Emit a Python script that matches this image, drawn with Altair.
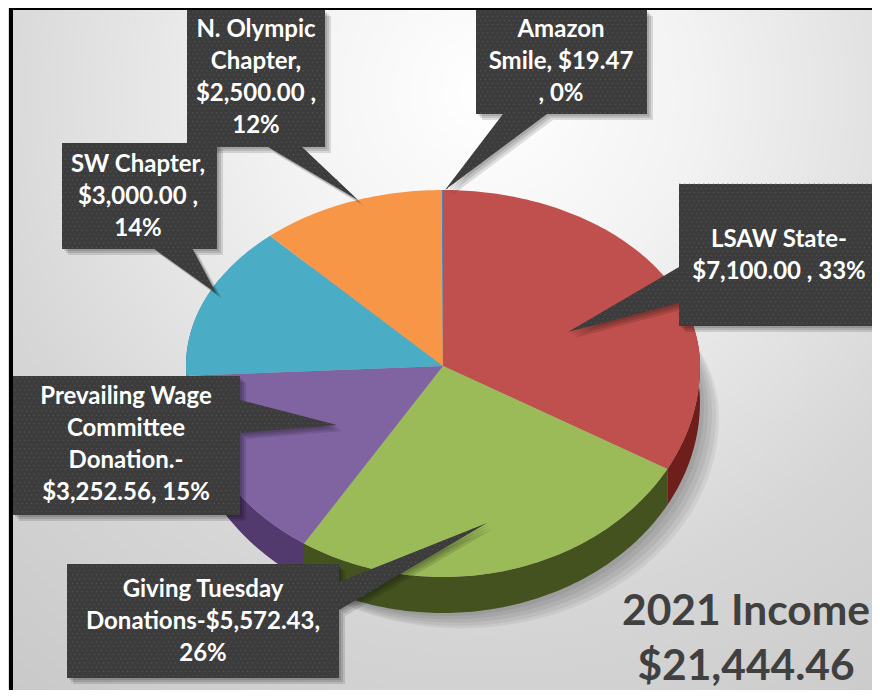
import math
import altair as alt
import pandas as pd

alt.data_transformers.disable_max_rows()

categories = ["LSAW State", "Giving Tuesday Donations", "Prevailing Wage Committee Donation",
              "SW Chapter", "N. Olympic Chapter", "Amazon Smile"]
values = [7100.00, 5572.43, 3252.56, 3000.00, 2500.00, 19.47]
top_colors = ["#c0504d", "#9bbb59", "#8064a2", "#4bacc6", "#f79646", "#4f81bd"]
side_colors = ["#6e1f1c", "#44521f", "#523a6e", "#2a6a7c", "#9a5a22", "#2a4a70"]
labels = [
    "LSAW State-\n$7,100.00 , 33%",
    "Giving Tuesday\nDonations-$5,572.43,\n26%",
    "Prevailing Wage\nCommittee\nDonation.-\n$3,252.56, 15%",
    "SW Chapter,\n$3,000.00 ,\n14%",
    "N. Olympic\nChapter,\n$2,500.00 ,\n12%",
    "Amazon\nSmile,  $19.47\n, 0%",
]
# callout geometry, in page pixels: box (x0, y0, x1, y1), tail (base a, tip, base b)
boxes = [(679, 184, 872, 326), (67, 564, 339, 678), (13, 376, 240, 515),
         (62, 143, 217, 249), (187, 10, 325, 147), (476, 10, 647, 114)]
tails = [((679, 267), (568, 332), (679, 303)), ((339, 582), (487, 523), (339, 610)),
         ((240, 400), (337, 425), (240, 433)), ((153, 248), (216, 293), (192, 248)),
         ((268, 147), (358, 200), (302, 147)), ((503, 114), (445, 190), (547, 114))]
text_xy = [(779, 240), (203, 590), (126, 397), (138, 165), (256, 30), (561, 30)]
title_lines = ["2021 Income", "$21,444.46"]

CX, CY, RX, RY_UP, RY_DOWN, DEPTH = 443, 366, 257, 176, 211, 36
W0, W1, H0, H1 = 8, 872, 8, 690
x_scale = alt.Scale(domain=[W0, W1], range=[0, W1 - W0], nice=False, zero=False)
y_scale = alt.Scale(domain=[H1, H0], range=[H1 - H0, 0], nice=False, zero=False)
X = lambda f="x": alt.X(f + ":Q", scale=x_scale, axis=None)
Y = lambda f="y": alt.Y(f + ":Q", scale=y_scale, axis=None)


def rim(deg, dy=0, dx=0):
    a = math.radians(deg)
    c = math.cos(a)
    return CX + dx + RX * math.sin(a), CY + dy - (RY_UP if c > 0 else RY_DOWN) * c


def arc_pts(a0, a1, dy=0, dx=0):
    n = max(2, int(abs(a1 - a0)) + 1)
    return [rim(a0 + (a1 - a0) * i / (n - 1), dy, dx) for i in range(n)]


def rows(polys):
    out = []
    for pid, (pts, fill) in enumerate(polys):
        for i, (x, y) in enumerate(list(pts) + [pts[0]]):
            out.append({"pid": pid, "i": i, "x": x, "y": y, "fill": fill})
    return pd.DataFrame(out)


def poly_layer(polys, **mark):
    return alt.Chart(rows(polys)).mark_line(strokeWidth=0, **mark).encode(
        x=X(), y=Y(), order="i:Q", detail="pid:N", fill=alt.Fill("fill:N", scale=None))


# --- slices from the values
total = sum(values)
angles = [0]
for v in values:
    angles.append(angles[-1] + 360 * v / total)
tops, sides = [], []
for k in range(len(values)):
    a0, a1 = angles[k], angles[k + 1]
    tops.append(([(CX, CY)] + arc_pts(a0, a1), top_colors[k]))
    lo, hi = max(a0, 60), min(a1, 300)
    if hi > lo:
        sides.append((arc_pts(lo, hi, DEPTH) + arc_pts(hi, lo), side_colors[k]))

shadow_polys = [(arc_pts(0, 360, DEPTH + 0.8 * o, o), "#000000") for o in (4, 8, 12, 16, 19)]

# --- callouts
box_poly = lambda b: [(b[0], b[1]), (b[2], b[1]), (b[2], b[3]), (b[0], b[3])]
callouts = [(box_poly(b), "#3c3c3c") for b in boxes] + [(list(t), "#3c3c3c") for t in tails]
shad = []
for off in (2, 4, 6):
    shad += [([(x + off, y + off) for x, y in pts], "#000000") for pts, _ in callouts]


def inside(px, py, tri):
    s = []
    for j in range(3):
        (ax, ay), (bx, by) = tri[j], tri[(j + 1) % 3]
        s.append((bx - ax) * (py - ay) - (by - ay) * (px - ax))
    return all(v >= 0 for v in s) or all(v <= 0 for v in s)


dots = []
row = 0
yy = 12.0
while yy < 680:
    xx = 15.0 + (2.4 if row % 2 else 0)
    while xx < 872:
        if any(b[0] < xx < b[2] and b[1] < yy < b[3] for b in boxes) or any(inside(xx, yy, t) for t in tails):
            dots.append({"x": xx, "y": yy})
        xx += 4.8
    yy += 4.2
    row += 1

bg = pd.DataFrame([{"x": 13, "x2": 872, "y": 10, "y2": 690}])
frame = pd.DataFrame([{"x": 9, "x2": 13, "y": 8, "y2": 690}, {"x": 9, "x2": 872, "y": 8, "y2": 10}])
gradient = alt.RadialGradient(gradient="radial", x1=0.55, y1=0.2, r1=0, x2=0.55, y2=0.2, r2=1.0,
                              stops=[alt.GradientStop(color="#ffffff", offset=0),
                                     alt.GradientStop(color="#f2f2f2", offset=0.25),
                                     alt.GradientStop(color="#d6d6d6", offset=0.6),
                                     alt.GradientStop(color="#c4c4c4", offset=1)])
FONT = "Lato"
txt = pd.DataFrame([{"x": p[0], "y": p[1], "t": l.split("\n")} for p, l in zip(text_xy, labels)])
ttl = pd.DataFrame([{"x": 746, "y": 625, "t": title_lines[0]}, {"x": 746, "y": 680, "t": title_lines[1]}])

chart = alt.layer(
    alt.Chart(bg).mark_rect(fill=gradient).encode(x=X(), x2="x2:Q", y=Y(), y2="y2:Q"),
    poly_layer(shadow_polys, opacity=0.06),
    poly_layer(sides),
    poly_layer(tops),
    poly_layer(shad, opacity=0.12),
    poly_layer(callouts),
    alt.Chart(pd.DataFrame(dots)).mark_circle(size=2, color="#545454", opacity=1).encode(x=X(), y=Y()),
    alt.Chart(txt).mark_text(font=FONT, fontWeight="bold", fontSize=24, color="#ffffff", lineHeight=32,
                             align="center", baseline="middle").encode(x=X(), y=Y(), text="t"),
    alt.Chart(ttl).mark_text(font=FONT, fontWeight="bold", fontSize=42.5, color="#404040",
                             align="center", baseline="alphabetic").encode(x=X(), y=Y(), text="t:N"),
    alt.Chart(frame).mark_rect(color="#000000").encode(x=X(), x2="x2:Q", y=Y(), y2="y2:Q"),
).properties(width=W1 - W0, height=H1 - H0, padding=0,
             autosize=alt.AutoSizeParams(type="none")).configure_view(stroke=None).configure(background="#ffffff")

chart.save("out.html", embed_options={"renderer": "svg", "actions": False})
